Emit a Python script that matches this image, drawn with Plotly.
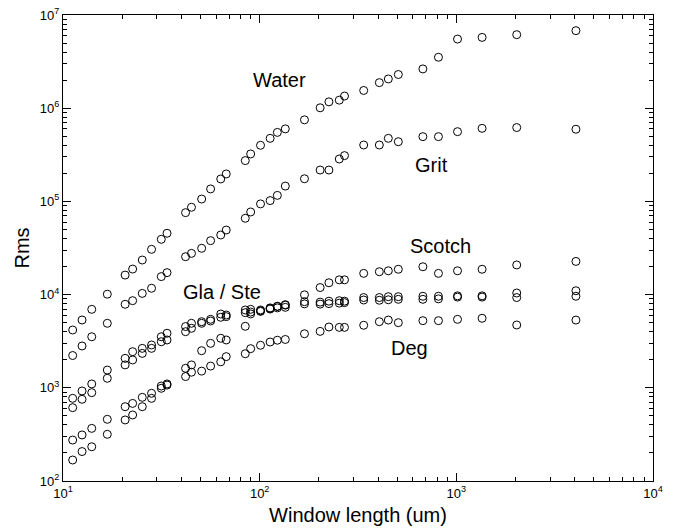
import plotly.graph_objects as go

# Window lengths (um) shared by all surfaces
window_um = [11.2, 12.5, 14.0, 16.8, 20.7, 22.6, 25.3, 28.2, 31.6, 33.8,
             42.0, 45.0, 50.7, 56.3, 63.4, 67.6, 84.5, 90.0, 101, 113,
             123, 135, 169, 203, 225, 254, 270, 338, 406, 451,
             507, 676, 811, 1014, 1352, 2028, 4056]

# RMS roughness per surface
rms_water = [4170, 5340, 6950, 10100, 16200, 18800, 23500, 30600, 39200, 45500,
             75700, 86500, 106000, 136000, 174000, 197000, 274000, 323000, 400000, 475000,
             550000, 600000, 750000, 1010000, 1170000, 1220000, 1350000, 1550000, 1880000, 2060000,
             2300000, 2640000, 3520000, 5520000, 5750000, 6150000, 6790000]

rms_grit = [2220, 2810, 3530, 4920, 7870, 8610, 10300, 11700, 15600, 17200,
            25500, 27700, 31400, 37900, 43600, 49300, 65900, 77000, 94000, 102000,
            116000, 146000, 175000, 217000, 217000, 285000, 310000, 403000, 403000, 475000,
            437000, 495000, 495000, 560000, 608000, 620000, 595000]

rms_scotch = [275, 312, 367, 459, 627, 680, 790, 873, 1045, 1100,
              1620, 1760, 2500, 3000, 3400, 3260, 4570, 6200, 6700, 7100,
              7500, 7800, 9950, 11900, 13400, 14400, 14400, 16900, 17600, 18000,
              18700, 19900, 16900, 18000, 18700, 20800, 22700]

rms_gla = [771, 925, 1100, 1550, 2070, 2440, 2650, 2880, 3530, 3850,
           4540, 4920, 5120, 5430, 6190, 6040, 6840, 6950, 6840, 7200,
           7450, 7700, 8400, 8300, 8500, 8600, 8500, 9300, 9300, 9500,
           9500, 9600, 9600, 9700, 9700, 10400, 11000]

rms_ste = [612, 753, 887, 1265, 1760, 1990, 2340, 2650, 3120, 3260,
           4000, 4350, 4920, 5210, 5710, 5800, 6400, 6500, 6600, 7000,
           7200, 7300, 7950, 7900, 8000, 8100, 8200, 8750, 8700, 8800,
           8900, 8900, 9000, 9400, 9400, 9300, 9600]

rms_deg = [168, 207, 233, 317, 452, 511, 627, 771, 988, 1070,
           1320, 1470, 1510, 1710, 1900, 2160, 2320, 2630, 2860, 3100,
           3240, 3300, 3800, 4030, 4490, 4450, 4450, 4690, 5120, 5330,
           5000, 5250, 5250, 5430, 5570, 4720, 5330]

series = [("Water", rms_water), ("Grit", rms_grit), ("Scotch", rms_scotch),
          ("Gla", rms_gla), ("Ste", rms_ste), ("Deg", rms_deg)]

# Curve labels: (text, log10 x, log10 y)
curve_labels = [("Water", 2.103, 6.303), ("Grit", 2.876, 5.395),
                ("Scotch", 2.917, 4.525), ("Gla / Ste", 1.81, 4.028),
                ("Deg", 2.763, 3.427)]

FONT = "Liberation Sans, Arial, Helvetica, sans-serif"

fig = go.Figure()
for name, vals in series:
    fig.add_trace(go.Scatter(
        x=window_um, y=vals, mode="markers", name=name,
        marker=dict(symbol="circle-open", size=8, color="black",
                    line=dict(color="black", width=1)),
        showlegend=False))

for text, lx, ly in curve_labels:
    fig.add_annotation(x=lx, y=ly, xref="x", yref="y", text=text,
                       showarrow=False, font=dict(size=20, color="black", family=FONT))


def decade_minor(lo, hi):
    out = []
    for e in range(lo, hi):
        for d in range(2, 10):
            out.append(d * 10 ** e)
    return out


axis_common = dict(
    type="log", showgrid=False, zeroline=False, automargin=False,
    showline=True, linecolor="black", linewidth=1, mirror="ticks",
    ticks="inside", ticklen=8, tickwidth=1, tickcolor="black",
    tickfont=dict(size=13, color="black", family=FONT),
)

fig.update_xaxes(
    **axis_common, range=[1, 4],
    tickvals=[10, 100, 1000, 10000],
    ticktext=["10<sup>1</sup>", "10<sup>2</sup>", "10<sup>3</sup>", "10<sup>4</sup>"],
    minor=dict(ticks="inside", ticklen=4, tickwidth=1, tickcolor="black",
               tickvals=decade_minor(1, 4), showgrid=False),
    title=dict(text="Window length (um)", font=dict(size=20, color="black", family=FONT),
               standoff=8),
)
fig.update_yaxes(
    **axis_common, range=[2, 7],
    tickvals=[100, 1000, 10000, 100000, 1000000, 10000000],
    ticktext=["10<sup>2</sup>", "10<sup>3</sup>", "10<sup>4</sup>",
              "10<sup>5</sup>", "10<sup>6</sup>", "10<sup>7</sup>"],
    minor=dict(ticks="inside", ticklen=4, tickwidth=1, tickcolor="black",
               tickvals=decade_minor(2, 7), showgrid=False),
    title=dict(text="Rms", font=dict(size=20, color="black", family=FONT), standoff=4),
)

fig.update_layout(
    width=674, height=529,
    margin=dict(l=63, r=21, t=15, b=48),
    paper_bgcolor="white", plot_bgcolor="white",
    font=dict(family=FONT, color="black"),
)

fig.write_html("out.html")
